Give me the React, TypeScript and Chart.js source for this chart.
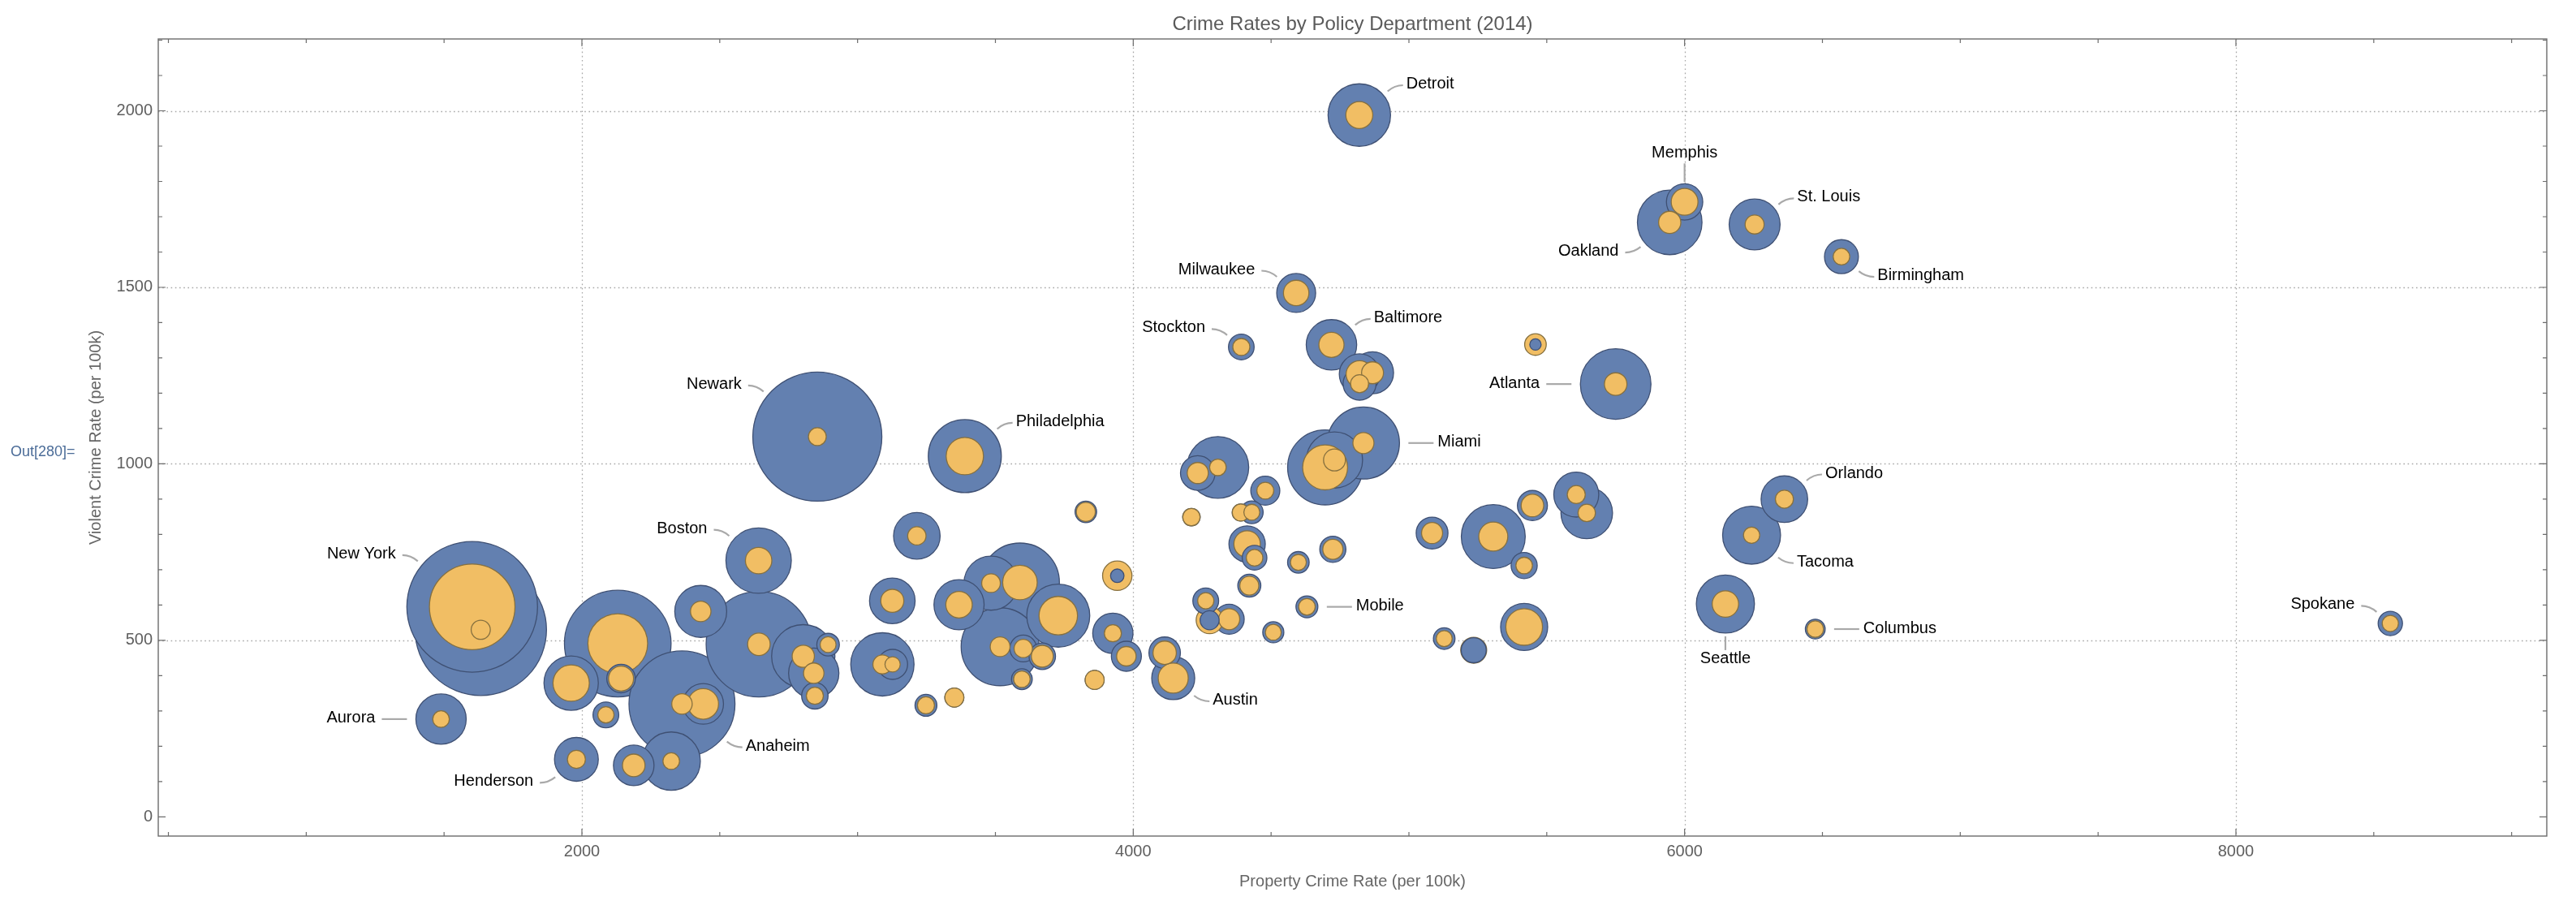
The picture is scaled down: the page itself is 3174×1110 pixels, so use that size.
import React, { useEffect, useRef } from "react";
import { Chart, registerables } from "chart.js";

Chart.register(...registerables);

// ---------------- data ----------------
const cityNames: string[] = [
  "New York", "Aurora", "Henderson", "Anaheim", "Boston", "Newark", "Philadelphia", "Austin",
  "Mobile", "Detroit", "Milwaukee", "Stockton", "Baltimore", "Miami", "Atlanta", "Memphis",
  "Oakland", "St. Louis", "Birmingham", "Orlando", "Tacoma", "Seattle", "Columbus", "Spokane",
  "", "", "", "", "", "", "", "",
  "", "", "", "", "", "", "", "",
  "", "", "", "", "", "", "", "",
  "", "", "", "", "", "", "", "",
  "", "", "", "", "", "", "", "",
  "", "", "", "", "", "", "", "",
  "", "", "", "", "", "", "", "",
  "", "", "", "", "", "", "", "",
];

const propertyCrimeRate: number[] = [
  1602, 1489, 1980, 2363, 2641, 2854, 3389, 4145,
  4630, 4820, 4591, 4392, 4719, 4835, 5750, 6000,
  5946, 6254, 6569, 6362, 6243, 6148, 6474, 8560,
  1633, 1961, 2130, 2142, 2087, 2440, 2324, 2188,
  2431, 2642, 2803, 2841, 2893, 2845, 3215, 3126,
  3090, 3127, 3248, 3351, 3368, 3484, 3589, 3517,
  3728, 3601, 3670, 3596, 3828, 3942, 3926, 3975,
  3860, 4114, 4211, 4277, 4348, 4263, 4421, 4413,
  4440, 4390, 4430, 4479, 4307, 4234, 4508, 4599,
  4868, 4821, 4821, 5459, 4696, 4730, 4724, 5084,
  5306, 5448, 5418, 5607, 5645, 5128, 5235, 5418,
];

const violentCrimeRate: number[] = [
  595, 277, 163, 320, 726, 1077, 1022, 393,
  595, 1988, 1484, 1331, 1337, 1059, 1226, 1742,
  1684, 1678, 1587, 900, 798, 603, 532, 548,
  530, 379, 491, 392, 289, 320, 158, 146,
  582, 489, 455, 407, 488, 343, 796, 612,
  432, 432, 316, 338, 601, 662, 664, 482,
  570, 477, 455, 390, 864, 683, 520, 455,
  388, 465, 849, 557, 560, 612, 655, 773,
  734, 862, 863, 924, 990, 974, 523, 721,
  1258, 1254, 1227, 1338, 990, 1011, 758, 804,
  794, 882, 712, 913, 861, 505, 472, 538,
];

// bubble radius of the blue series
const blueBubbleRadius: number[] = [
  80.5, 31, 27, 65.3, 40.3, 79.5, 45, 26.5,
  13.5, 38.5, 24, 15.8, 31.1, 44.4, 43.5, 22.4,
  39.8, 31.4, 20.9, 28.7, 35.7, 35.8, 12.2, 15,
  81, 33.5, 65.7, 17.6, 15.9, 25, 35.9, 25,
  32, 65, 39, 31, 13.9, 16.3, 28.7, 28.1,
  39, 18.5, 13.5, 11.7, 30.9, 33.3, 48.6, 48,
  38.8, 16.5, 16.3, 12.8, 13.3, 8.3, 24.8, 18.5,
  11.7, 19.4, 10.7, 11.7, 18.5, 15.9, 14.2, 22.4,
  15.2, 10.5, 14, 17.9, 38, 21.3, 13, 13.3,
  25.9, 25, 20.3, 7, 46.2, 34.6, 16.1, 19.6,
  39.4, 18.5, 16.1, 27.7, 31.8, 13.3, 15.4, 29,
];

// bubble radius of the orange series
const orangeBubbleRadius: number[] = [
  52.7, 10.2, 11.1, 12.6, 16.3, 11, 23, 18.5,
  10.2, 16.6, 15.7, 10.5, 15.5, 13, 13.9, 16.5,
  13.7, 11.7, 10.2, 11.1, 10, 16.3, 10.2, 10,
  11.8, 22.4, 36.8, 15.4, 10, 18.9, 10.2, 13.9,
  12.6, 13.9, 13.7, 12.6, 9.8, 10.5, 11.3, 14.2,
  11.7, 9.4, 10.5, 11.7, 16.3, 11.5, 21.3, 12.2,
  23.7, 11.3, 13.5, 10.2, 11.7, 18.1, 10.5, 12,
  11.7, 14.4, 10.7, 16.6, 13, 10, 11.7, 16.3,
  10.2, 10.5, 9.8, 10.4, 10.2, 13, 9.8, 9.8,
  13.5, 16.6, 11.1, 13.3, 27.7, 13.5, 12.4, 13,
  17.9, 13.9, 10.2, 11.1, 10.7, 9.8, 16, 22.6,
];

const xTickValues = [2000, 4000, 6000, 8000];
const yTickValues = [0, 500, 1000, 1500, 2000];
const yGridValues = [500, 1000, 1500, 2000];

const chartTitle = "Crime Rates by Policy Department (2014)";
const xAxisTitle = "Property Crime Rate (per 100k)";
const yAxisTitle = "Violent Crime Rate (per 100k)";
const cellLabel = "Out[280]=";

// callout placement (style only)
const callouts: [string, string][] = [
  ["New York", "nw"], ["Aurora", "w"], ["Henderson", "sw"], ["Anaheim", "se"],
  ["Boston", "nw"], ["Newark", "nw"], ["Philadelphia", "ne"], ["Austin", "se"],
  ["Mobile", "e"], ["Detroit", "ne"], ["Milwaukee", "nw"], ["Stockton", "nw"],
  ["Baltimore", "ne"], ["Miami", "e"], ["Atlanta", "w"], ["Memphis", "n"],
  ["Oakland", "sw"], ["St. Louis", "ne"], ["Birmingham", "se"], ["Orlando", "ne"],
  ["Tacoma", "se"], ["Seattle", "s"], ["Columbus", "e"], ["Spokane", "nw"],
];

// ---------------- styles ----------------
const FONT = "'Liberation Sans', Arial, Helvetica, sans-serif";
const BLUE_FILL = "#6380b0";
const BLUE_EDGE = "#3f5073";
const ORANGE_FILL = "#f1be64";
const ORANGE_EDGE = "#86703f";
const FRAME = "#6c6c6c";
const GRID = "#a8a8a8";
const TICK_TEXT = "#5f5f5f";

type Pt = { x: number; y: number; r: number; series: number; city: number };

function buildPoints(): Pt[] {
  const pts: Pt[] = [];
  cityNames.forEach((_, i) => {
    pts.push({ x: propertyCrimeRate[i], y: violentCrimeRate[i], r: blueBubbleRadius[i], series: 0, city: i });
    pts.push({ x: propertyCrimeRate[i], y: violentCrimeRate[i], r: orangeBubbleRadius[i], series: 1, city: i });
  });
  // larger bubbles are drawn first, smaller ones on top
  pts.sort((a, b) => b.r - a.r || a.series - b.series);
  return pts;
}

const decorPlugin = {
  id: "decor",
  beforeDatasetsDraw(chart: any) {
    const { ctx, chartArea: a } = chart;
    const xs = chart.scales.x;
    const ys = chart.scales.y;
    ctx.save();
    ctx.strokeStyle = GRID;
    ctx.lineWidth = 1.3;
    ctx.setLineDash([1.6, 3.6]);
    for (const v of xTickValues) {
      const px = Math.round(xs.getPixelForValue(v)) + 0.5;
      ctx.beginPath();
      ctx.moveTo(px, a.top);
      ctx.lineTo(px, a.bottom);
      ctx.stroke();
    }
    for (const v of yGridValues) {
      const py = Math.round(ys.getPixelForValue(v)) + 0.5;
      ctx.beginPath();
      ctx.moveTo(a.left, py);
      ctx.lineTo(a.right, py);
      ctx.stroke();
    }
    ctx.restore();
  },
  afterDatasetsDraw(chart: any) {
    const { ctx, chartArea: a } = chart;
    const xs = chart.scales.x;
    const ys = chart.scales.y;
    ctx.save();
    // frame
    ctx.strokeStyle = FRAME;
    ctx.lineWidth = 1.4;
    ctx.strokeRect(a.left, a.top, a.right - a.left, a.bottom - a.top);
    // ticks (inward, all four sides)
    ctx.lineWidth = 1.2;
    const major = 9;
    const minor = 5;
    for (let v = 500; v <= 9000; v += 500) {
      const px = xs.getPixelForValue(v);
      const len = xTickValues.includes(v) ? major : minor;
      ctx.beginPath();
      ctx.moveTo(px, a.bottom);
      ctx.lineTo(px, a.bottom - len);
      ctx.moveTo(px, a.top);
      ctx.lineTo(px, a.top + len);
      ctx.stroke();
    }
    for (let v = 0; v <= 2200; v += 100) {
      const py = ys.getPixelForValue(v);
      const len = yTickValues.includes(v) ? major : minor;
      ctx.beginPath();
      ctx.moveTo(a.left, py);
      ctx.lineTo(a.left + len, py);
      ctx.moveTo(a.right, py);
      ctx.lineTo(a.right - len, py);
      ctx.stroke();
    }

    // callouts
    ctx.font = `20px ${FONT}`;
    ctx.fillStyle = "#000";
    ctx.textBaseline = "middle";
    for (const [name, side] of callouts) {
      const i = cityNames.indexOf(name);
      if (i < 0) continue;
      const cx = xs.getPixelForValue(propertyCrimeRate[i]);
      const cy = ys.getPixelForValue(violentCrimeRate[i]);
      const R = Math.max(blueBubbleRadius[i], orangeBubbleRadius[i]);
      let sx = 0, sy = 0, ex = 0, ey = 0, tx = 0, ty = 0;
      let align: CanvasTextAlign = "left";
      let curved = false;
      const diag = (deg: number, dx: number, dy: number) => {
        const t = (deg * Math.PI) / 180;
        sx = cx + (R + 7) * Math.cos(t);
        sy = cy + (R + 7) * Math.sin(t);
        ex = sx + dx;
        ey = sy + dy;
        curved = true;
      };
      if (side === "e") {
        sx = cx + R + 11; sy = cy; ex = cx + R + 42; ey = cy;
        tx = ex + 5; ty = ey - 1; align = "left";
      } else if (side === "w") {
        sx = cx - R - 11; sy = cy; ex = cx - R - 42; ey = cy;
        tx = ex - 8; ty = ey - 1; align = "right";
      } else if (side === "n") {
        sx = cx; sy = cy - R - 2; ex = cx; ey = cy - R - 25;
        tx = cx; ty = ey - 13; align = "center";
      } else if (side === "s") {
        sx = cx; sy = cy + R + 4; ex = cx; ey = cy + R + 21;
        tx = cx; ty = ey + 11; align = "center";
      } else if (side === "ne") {
        diag(-40, 19, -7.5); tx = ex + 4; ty = ey - 1.5; align = "left";
      } else if (side === "nw") {
        diag(-140, -19, -7.5); tx = ex - 8; ty = ey - 1.5; align = "right";
      } else if (side === "se") {
        diag(40, 19, 7); tx = ex + 4; ty = ey - 1.5; align = "left";
      } else if (side === "sw") {
        diag(140, -19, 7); tx = ex - 8; ty = ey - 1.5; align = "right";
      }
      ctx.strokeStyle = "#a9a9a9";
      ctx.lineWidth = 2.2;
      ctx.beginPath();
      ctx.moveTo(sx, sy);
      if (curved) {
        ctx.quadraticCurveTo(sx + (ex - sx) * 0.45, ey, ex, ey);
      } else {
        ctx.lineTo(ex, ey);
      }
      ctx.stroke();
      ctx.textAlign = align;
      ctx.fillText(name, tx, ty);
    }
    ctx.restore();
  },
  afterDraw(chart: any) {
    const { ctx, chartArea: a } = chart;
    ctx.save();
    ctx.textBaseline = "middle";
    // title
    ctx.fillStyle = "#5a5a5a";
    ctx.font = `24px ${FONT}`;
    ctx.textAlign = "center";
    ctx.fillText(chartTitle, (a.left + a.right) / 2, 30);
    // x axis title
    ctx.fillStyle = "#666";
    ctx.font = `20px ${FONT}`;
    ctx.fillText(xAxisTitle, (a.left + a.right) / 2, 1086);
    // y axis title
    ctx.save();
    ctx.translate(118, (a.top + a.bottom) / 2);
    ctx.rotate(-Math.PI / 2);
    ctx.fillText(yAxisTitle, 0, 0);
    ctx.restore();
    // cell label
    ctx.fillStyle = "#4b6c98";
    ctx.font = `18px ${FONT}`;
    ctx.textAlign = "left";
    ctx.fillText(cellLabel, 13, 557);
    ctx.restore();
  },
};

export default function App() {
  const ref = useRef<HTMLCanvasElement | null>(null);
  useEffect(() => {
    const canvas = ref.current;
    if (!canvas) return;
    const points = buildPoints();
    const chart = new Chart(canvas, {
      type: "bubble",
      data: {
        datasets: [
          {
            label: "Crime rates",
            data: points as any,
            backgroundColor: (c: any) => (c.raw && c.raw.series === 1 ? ORANGE_FILL : BLUE_FILL),
            borderColor: (c: any) => (c.raw && c.raw.series === 1 ? ORANGE_EDGE : BLUE_EDGE),
            borderWidth: 1.3,
          },
        ],
      },
      options: {
        responsive: false,
        devicePixelRatio: 1,
        animation: false,
        events: [],
        layout: { autoPadding: false, padding: { top: 48, right: 36, left: 0, bottom: 0 } },
        plugins: { legend: { display: false }, tooltip: { enabled: false }, title: { display: false } },
        scales: {
          x: {
            type: "linear",
            min: 463.2,
            max: 9127.6,
            afterBuildTicks: (s: any) => {
              s.ticks = xTickValues.map((v) => ({ value: v }));
            },
            afterFit: (s: any) => {
              s.height = 80;
            },
            grid: { display: false, drawTicks: false },
            border: { display: false },
            ticks: {
              padding: 7,
              color: TICK_TEXT,
              font: { family: FONT, size: 20 },
              maxRotation: 0,
              autoSkip: false,
              callback: (v: any) => String(v),
            },
          },
          y: {
            type: "linear",
            min: -54.3,
            max: 2203.5,
            afterBuildTicks: (s: any) => {
              s.ticks = yTickValues.map((v) => ({ value: v }));
            },
            afterFit: (s: any) => {
              s.width = 195;
            },
            grid: { display: false, drawTicks: false },
            border: { display: false },
            ticks: {
              padding: 7,
              color: TICK_TEXT,
              font: { family: FONT, size: 20 },
              autoSkip: false,
              callback: (v: any) => String(v),
            },
          },
        },
      },
      plugins: [decorPlugin],
    } as any);
    return () => chart.destroy();
  }, []);
  return (
    <div style={{ position: "fixed", left: 0, top: 0, width: 3174, height: 1110, background: "#fff" }}>
      <canvas ref={ref} width={3174} height={1110} style={{ width: 3174, height: 1110, display: "block" }} />
    </div>
  );
}
